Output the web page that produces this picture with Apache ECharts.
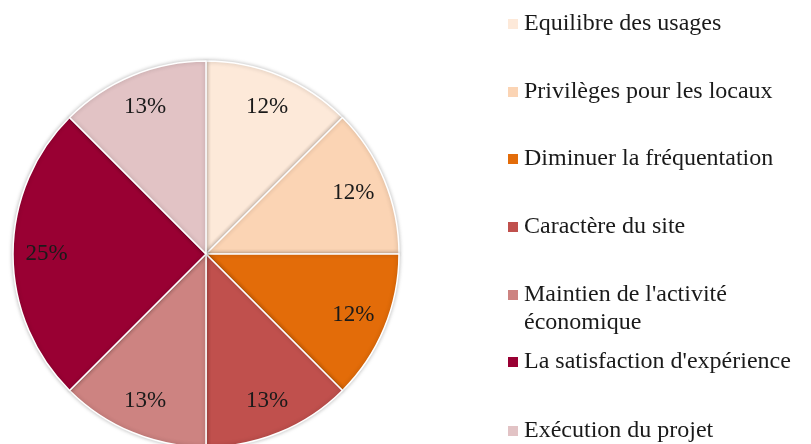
<!DOCTYPE html>
<html>
<head>
<meta charset="utf-8">
<script src="https://cdn.jsdelivr.net/npm/echarts@6/dist/echarts.min.js"></script>
<style>
  html, body { margin: 0; padding: 0; background: #fff; }
  #chart { width: 811px; height: 444px; }
</style>
</head>
<body>
<div id="chart"></div>
<script>
// categories, in clockwise order from 12 o'clock
const categories = [
  'Equilibre des usages',
  'Privilèges pour les locaux',
  'Diminuer la fréquentation',
  'Caractère du site',
  "Maintien de l'activité économique",
  "La satisfaction d'expérience",
  'Exécution du projet'
]
// share of each slice
const shares = [12.5, 12.5, 12.5, 12.5, 12.5, 25, 12.5]
// percentage labels as printed on the slices
const shareLabels = ['12%', '12%', '12%', '13%', '13%', '25%', '13%']
const colors = ['#FDE9D9', '#FBD4B4', '#E36C09', '#C0504D', '#CD8381', '#990033', '#E2C3C5']

// icon centre of each legend row
const legendCenters = [24, 92, 159, 227, 295, 362, 431]
const serif = "'Liberation Serif', 'DejaVu Serif', serif"

const chart = echarts.init(document.getElementById('chart'))

const legends = categories.map(function(name, i) {
  const twoLines = name.indexOf('économique') >= 0
  return {
    orient: 'vertical',
    left: 506,
    // two-line entry gets a blank first line so the icon sits on line one
    top: legendCenters[i] - (twoLines ? 42 : 14),
    padding: 0,
    itemWidth: 12,
    itemHeight: 12,
    icon: 'rect',
    selectedMode: false,
    data: [name],
    formatter: function(n) {
      return twoLines ? ' \n' + n.replace(' économique', '\néconomique') : n
    },
    textStyle: {
      fontFamily: serif,
      fontSize: 24,
      lineHeight: 28,
      color: '#1a1a1a'
    }
  }
})

chart.setOption({
  animation: false,
  color: colors,
  legend: legends,
  series: [
    {
      name: 'slices',
      type: 'pie',
      center: [206, 254],
      radius: 193,
      startAngle: 90,
      clockwise: true,
      label: { show: false },
      labelLine: { show: false },
      itemStyle: {
        borderColor: '#fff',
        borderWidth: 1.5,
        shadowBlur: 4,
        shadowColor: 'rgba(0,0,0,0.25)'
      },
      emphasis: { disabled: true },
      data: categories.map(function(name, i) {
        return { name: name, value: shares[i] }
      })
    },
    {
      // transparent ring, only used to place the labels further out
      name: 'labels',
      type: 'pie',
      center: [206, 254],
      radius: [120, 193],
      startAngle: 90,
      clockwise: true,
      silent: true,
      itemStyle: { color: 'rgba(0,0,0,0)' },
      label: {
        show: true,
        position: 'inside',
        fontFamily: serif,
        fontSize: 23,
        color: '#1a1a1a',
        formatter: function(p) { return shareLabels[p.dataIndex] }
      },
      labelLine: { show: false },
      emphasis: { disabled: true },
      data: categories.map(function(name, i) {
        return { name: name, value: shares[i] }
      })
    }
  ]
})
</script>
</body>
</html>
